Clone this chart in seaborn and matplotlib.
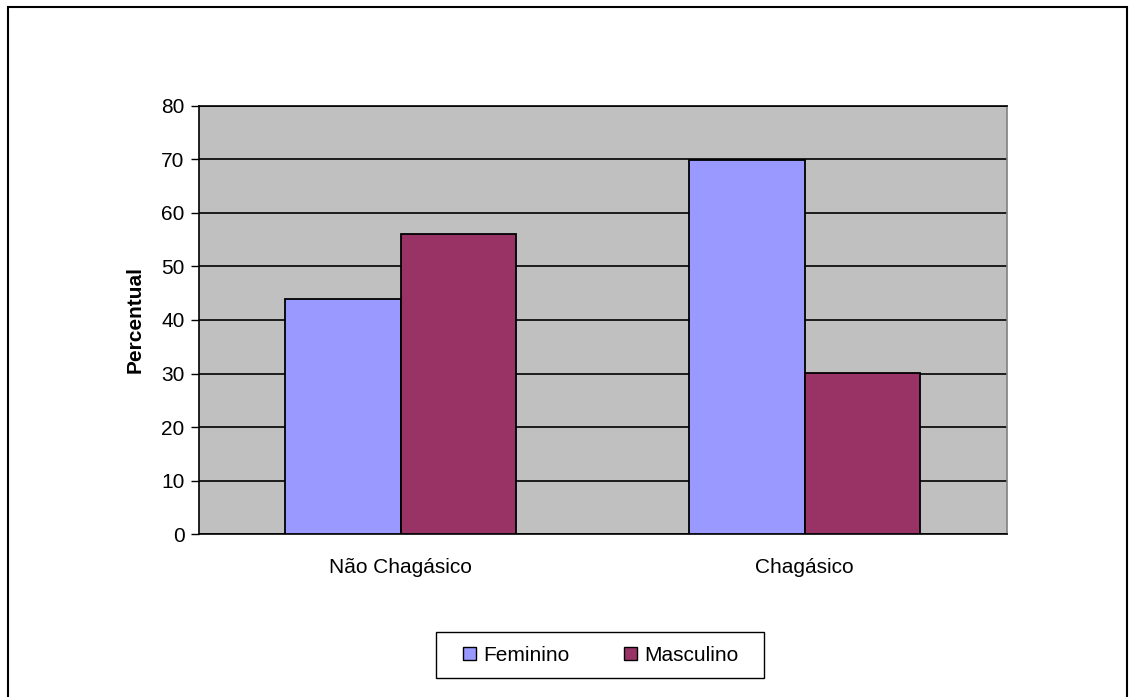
import matplotlib
matplotlib.use("Agg")
import matplotlib.pyplot as plt
from matplotlib.patches import Rectangle, Patch
import seaborn as sns
import pandas as pd

categories = ["Não Chagásico", "Chagásico"]
feminino = [44.0, 69.8]
masculino = [56.0, 30.2]
groups = ["Feminino", "Masculino"]
colors = ["#9999FF", "#993366"]
yticks = [0, 10, 20, 30, 40, 50, 60, 70, 80]

df = pd.DataFrame({
    "categoria": categories * 2,
    "sexo": [groups[0]] * len(categories) + [groups[1]] * len(categories),
    "percentual": feminino + masculino,
})

sns.set_style("white")
plt.rcParams["font.family"] = ["Liberation Sans", "DejaVu Sans"]
plt.rcParams["text.color"] = "black"
plt.rcParams["axes.labelcolor"] = "black"
plt.rcParams["xtick.color"] = "black"
plt.rcParams["ytick.color"] = "black"

W, H = 1130, 697
FS = 15
fig = plt.figure(figsize=(W / 100, H / 100), dpi=100)
ax = fig.add_axes([198.5 / W, 1 - 534.3 / H, (1006.7 - 198.5) / W, (534.3 - 105.7) / H])
ax.set_facecolor("#C0C0C0")

sns.barplot(data=df, x="categoria", y="percentual", hue="sexo",
            palette=colors, width=0.572, gap=0, edgecolor="black",
            linewidth=1.3, saturation=1, ax=ax, legend=False, zorder=3)

ax.set_xlim(-0.5, 1.5)
ax.set_ylim(0, 80)
ax.set_yticks(yticks)
ax.yaxis.grid(True, color="black", linewidth=1.2, zorder=1)
ax.set_axisbelow(True)

ax.set_xticks([0, 1])
ax.set_xticklabels(categories, fontsize=FS)
ax.tick_params(axis="x", length=0, pad=17)
ax.set_xticks([-0.5, 0.5, 1.5], minor=True)
ax.tick_params(axis="x", which="minor", length=6, width=1, color="black", direction="out")
ax.tick_params(axis="y", length=6, width=1, color="black", direction="out", labelsize=FS, pad=4, left=True)

for s in ["left", "bottom", "top"]:
    ax.spines[s].set_color("black")
    ax.spines[s].set_linewidth(1.2)
ax.spines["right"].set_color("#808080")
ax.spines["right"].set_linewidth(1.2)

ax.set_xlabel("")
ax.set_ylabel("Percentual", fontsize=FS, fontweight="bold", labelpad=12)

# Legend entries, with a separate box drawn around them
handles = [Patch(facecolor=c, edgecolor="black", linewidth=1) for c in colors]
leg = fig.legend(handles, groups, loc="center", bbox_to_anchor=(601 / W, 1 - 655.5 / H),
                 ncol=2, fontsize=FS, frameon=False,
                 handlelength=0.6, handleheight=0.6,
                 handletextpad=0.38, columnspacing=2.6, borderpad=0,
                 borderaxespad=0)
fig.patches.append(Rectangle((436 / W, 1 - 678 / H), (764 - 436) / W, (678 - 632) / H,
                             transform=fig.transFigure, facecolor="white",
                             edgecolor="black", linewidth=1, zorder=0))

# Outer chart border
fig.patches.append(Rectangle((8 / W, -0.01), (1127 - 8) / W, 1 - 7 / H + 0.01,
                             transform=fig.transFigure, fill=False,
                             edgecolor="black", linewidth=1.5, zorder=0))

fig.savefig("out.png", dpi=100)
